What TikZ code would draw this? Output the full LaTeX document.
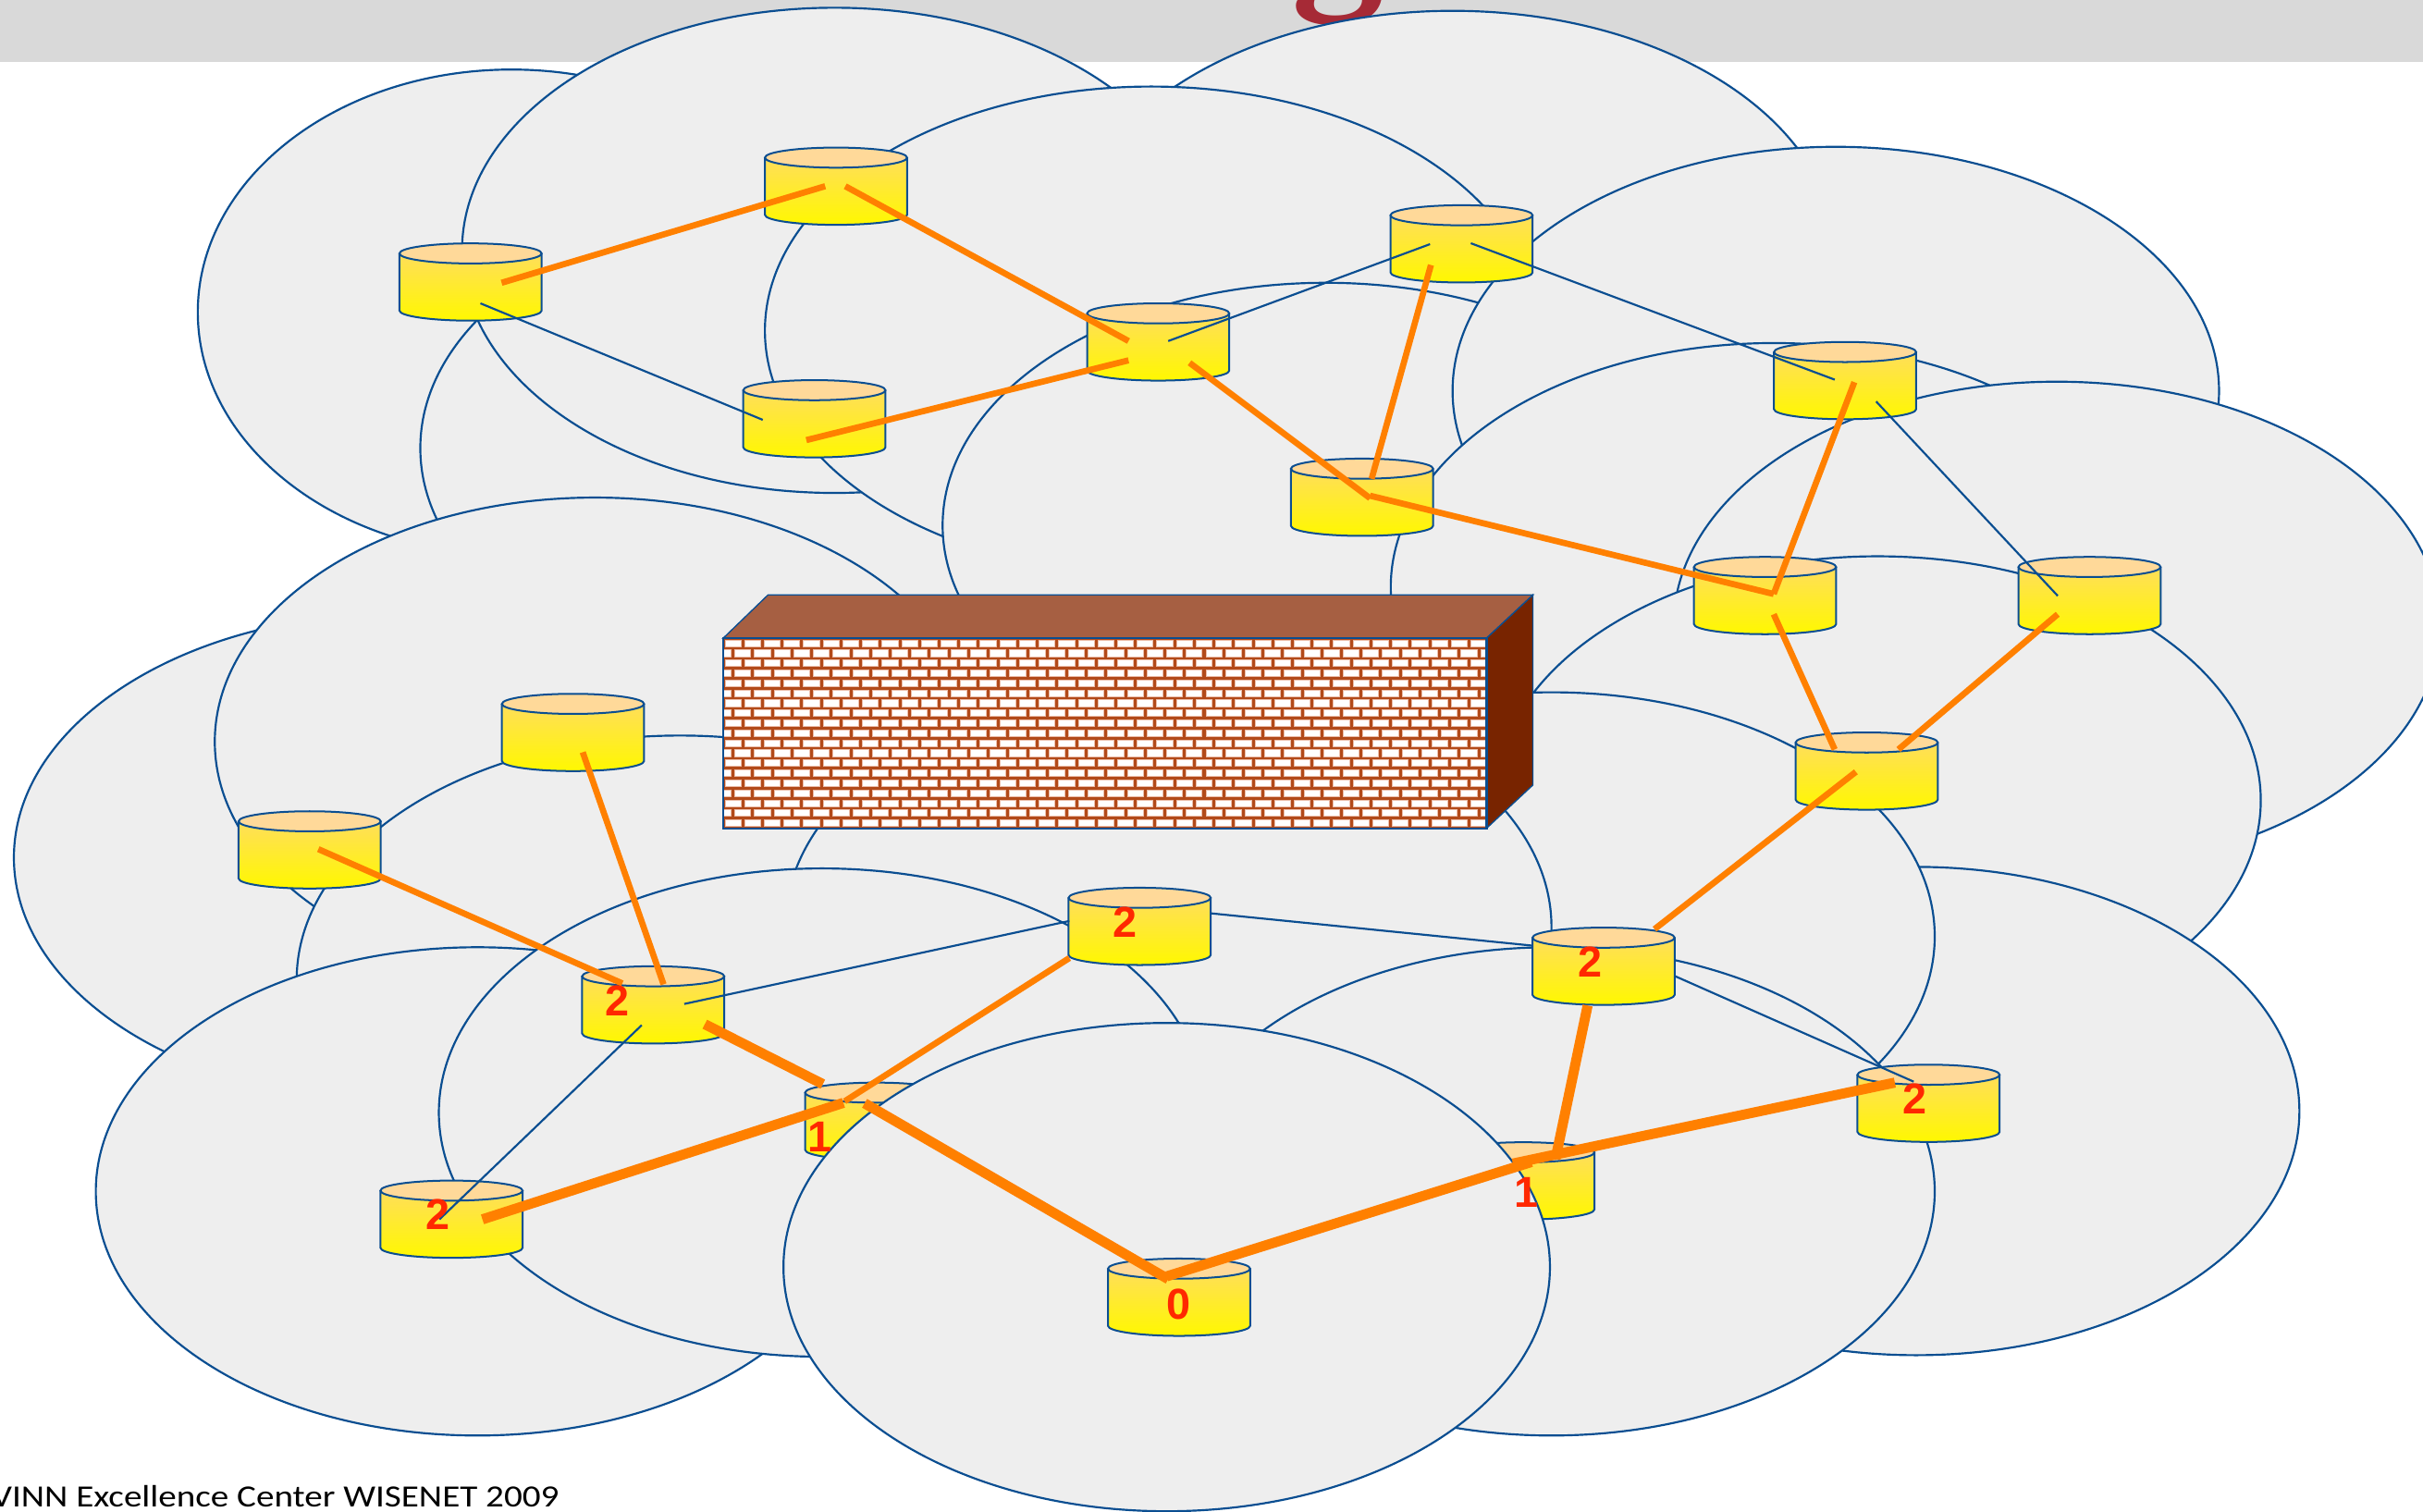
\documentclass[tikz,border=0pt]{standalone}
\usepackage{fontspec}
\usetikzlibrary{calc}
\newfontfamily\labelfont{Liberation Sans}
\newfontfamily\footfont{Carlito}
\newfontfamily\headfont{Liberation Serif}

\definecolor{cellgray}{RGB}{238,238,238}
\definecolor{linkblue}{RGB}{10,78,145}
\definecolor{barfill}{RGB}{217,217,217}
\definecolor{hoporange}{RGB}{255,128,0}
\definecolor{hopred}{RGB}{255,40,0}
\definecolor{titlered}{RGB}{166,42,54}
\definecolor{captop}{RGB}{255,217,153}
\definecolor{bodytop}{RGB}{255,222,90}
\definecolor{bodybot}{RGB}{255,248,0}
\definecolor{mortar}{RGB}{178,74,26}
\definecolor{brickedge}{RGB}{236,190,170}
\definecolor{walltop}{RGB}{166,95,66}
\definecolor{wallside}{RGB}{120,36,0}

% one radio node drawn as a small cylinder, centred at (#2,#3)
\newcommand{\relaynode}[3]{%
  \coordinate (#1) at (#2,#3);
  \begin{scope}[shift={(#2,#3)}]
    \path[top color=bodytop, bottom color=bodybot]
      (-46,-18.5) -- (-46,18.5) arc[start angle=180,end angle=0,x radius=46,y radius=6.5]
      -- (46,-18.5) arc[start angle=0,end angle=180,x radius=46,y radius=6.5] -- cycle;
    \draw[cyledge] (-46,-18.5) -- (-46,18.5)
      arc[start angle=180,end angle=0,x radius=46,y radius=6.5] -- (46,-18.5);
    \draw[cyledge, fill=captop] (0,-18.5) ellipse[x radius=46, y radius=6.5];
  \end{scope}}

\begin{document}
\begin{tikzpicture}[x=1pt,y=-1pt,
  cell/.style={fill=cellgray, draw=linkblue, line width=1.3pt},
  cyledge/.style={draw=linkblue, line width=1.2pt},
  link/.style={draw=linkblue, line width=1.3pt},
  hopthin/.style={draw=hoporange, line width=4pt},
  hopthick/.style={draw=hoporange, line width=6.5pt},
  hoplabel/.style={text=hopred, font=\labelfont\bfseries\fontsize{28}{28}\selectfont, inner sep=0pt},
  titleglyph/.style={anchor=base, text=titlered, inner sep=0pt,
    font=\headfont\bfseries\fontsize{120}{120}\selectfont}]
\useasboundingbox (0,0) rectangle (1568,978);
\clip (0,0) rectangle (1568,978);
\fill[white] (0,0) rectangle (1568,978);

% heading band
\fill[barfill] (0,0) rectangle (1568,40);
\node[titleglyph] (titleg) at (866,-10) {g};

% radio ranges
\draw[cell] (331,202) ellipse[x radius=203, y radius=157];
\draw[cell] (520,290) ellipse[x radius=248, y radius=158];
\draw[cell] (540,162) ellipse[x radius=241, y radius=157];
\draw[cell] (940,165) ellipse[x radius=248, y radius=158];
\draw[cell] (745,214) ellipse[x radius=250, y radius=158];
\draw[cell] (858,340) ellipse[x radius=248, y radius=157];
\draw[cell] (1188,253) ellipse[x radius=248, y radius=158];
\draw[cell] (1148,380) ellipse[x radius=248, y radius=158];
\draw[cell] (1331,405) ellipse[x radius=248, y radius=158];
\draw[cell] (1215,518) ellipse[x radius=248, y radius=158];
\draw[cell] (1240,719) ellipse[x radius=248, y radius=158];
\draw[cell] (1004,606) ellipse[x radius=248, y radius=158];
\draw[cell] (257,555) ellipse[x radius=248, y radius=158];
\draw[cell] (385,480) ellipse[x radius=246, y radius=158];
\draw[cell] (440,634) ellipse[x radius=248, y radius=158];
\draw[cell] (309,771) ellipse[x radius=247, y radius=158];
\draw[cell] (756,600) ellipse[x radius=248, y radius=158];
\draw[cell] (532,720) ellipse[x radius=248, y radius=158];
\draw[cell] (1004,771) ellipse[x radius=248, y radius=158];

% brick wall
\fill[walltop, draw=linkblue, line width=0.8pt] (468,413) -- (497,385) -- (992,385) -- (962,413) -- cycle;
\fill[wallside, draw=linkblue, line width=0.8pt] (962,413) -- (992,385) -- (992,508) -- (962,536) -- cycle;
\begin{scope}
  \clip (468,413) rectangle (962,536);
  \fill[mortar] (468,413) rectangle (962,536);
  \foreach \r in {0,...,18} {
    \foreach \c in {-1,...,39} {
      \pgfmathsetmacro\bx{468 + \c*12.7 + mod(\r,2)*6.35}
      \pgfmathsetmacro\by{413 + \r*6.47}
      \filldraw[fill=white, draw=brickedge, line width=0.5pt]
        (\bx+1.2,\by+1.1) rectangle (\bx+11.5,\by+5.4);
    }
  }
\end{scope}
\draw[linkblue, line width=1.3pt] (468,413) rectangle (962,536);

% nodes lying under the last range
\relaynode{n17}{567}{725.6}
\relaynode{n18}{985.8}{764.2}
\draw[cell] (755,820) ellipse[x radius=248, y radius=158];

% remaining nodes
\relaynode{n1}{304.5}{182.5}
\relaynode{n2}{541}{120.5}
\relaynode{n3}{527}{271}
\relaynode{n4}{749.5}{221.3}
\relaynode{n5}{945.8}{157.8}
\relaynode{n6}{1194}{246.3}
\relaynode{n7}{881.4}{321.8}
\relaynode{n8}{1142.2}{385.4}
\relaynode{n9}{1352.2}{385.4}
\relaynode{n10}{370.8}{474}
\relaynode{n11}{200.4}{550}
\relaynode{n12}{1208}{499}
\relaynode{n13}{737.5}{599.5}
\relaynode{n14}{1037.7}{625.3}
\relaynode{n15}{422.7}{650.3}
\relaynode{n16}{1248}{714}
\relaynode{n19}{292.2}{789}
\relaynode{n20}{763}{839.5}

% neighbour links
\draw[link] ($(n1)+(6.4,13.8)$) -- ($(n3)+(-33.4,0.7)$);
\draw[link] ($(n4)+(6.5,-0.6)$) -- ($(n5)+(-20.4,0.2)$);
\draw[link] ($(n5)+(6,-0.4)$) -- ($(n6)+(-6.7,-0.6)$);
\draw[link] ($(n6)+(20.1,13.5)$) -- ($(n9)+(-20.6,0.2)$);
\draw[link] ($(n15)+(20.1,-0.6)$) -- ($(n13)+(-45.5,-3.5)$);
\draw[link] ($(n15)+(-7.4,13.1)$) -- ($(n19)+(-7.8,0.1)$);
\draw[link] ($(n13)+(45.5,-8.5)$) -- ($(n14)+(-45.7,-13.3)$);
\draw[link] ($(n14)+(46,6.3)$) -- ($(n16)+(-9.6,-14)$);

% routing tree
\draw[hopthin] ($(n1)+(20.1,0.5)$) -- ($(n2)+(-7,0)$);
\draw[hopthin] ($(n2)+(6,0)$) -- ($(n4)+(-19.2,-0.6)$);
\draw[hopthin] ($(n3)+(-5.2,13.8)$) -- ($(n4)+(-19.2,11.9)$);
\draw[hopthin] ($(n4)+(20.3,13.5)$) -- ($(n7)+(5.2,0.6)$);
\draw[hopthin] ($(n5)+(-19.8,13.7)$) -- ($(n7)+(6.2,-11.9)$);
\draw[hopthin] ($(n7)+(5.2,-1)$) -- ($(n8)+(5.6,-1)$);
\draw[hopthin] ($(n6)+(6,1)$) -- ($(n8)+(5.6,-1)$);
\draw[hopthin] ($(n8)+(5.6,12.1)$) -- ($(n12)+(-20.7,-14)$);
\draw[hopthin] ($(n9)+(-20.6,12.1)$) -- ($(n12)+(20.5,-14)$);
\draw[hopthin] ($(n12)+(-7,0.5)$) -- ($(n14)+(33,-24)$);
\draw[hopthin] ($(n10)+(6.3,12.8)$) -- ($(n15)+(6.7,-13.3)$);
\draw[hopthin] ($(n11)+(5.6,-0.5)$) -- ($(n15)+(-20,-13.9)$);
\draw[hopthin] ($(n13)+(-45.5,20.5)$) -- ($(n17)+(-20.4,-12.9)$);
\draw[hopthick] ($(n15)+(33.4,12.5)$) -- ($(n17)+(-34.5,-24)$);
\draw[hopthick] ($(n19)+(20,0.1)$) -- ($(n17)+(-21.2,-11.9)$);
\draw[hopthick] ($(n17)+(-7.5,-11.6)$) -- ($(n20)+(-7,-11.7)$);
\draw[hopthick] ($(n20)+(-8,-13.5)$) -- ($(n18)+(5.2,-12.2)$);
\draw[hopthick] ($(n18)+(-6.8,-11.2)$) -- ($(n16)+(-21.8,-13.4)$);
\draw[hopthick] ($(n14)+(-10.3,25.4)$) -- ($(n18)+(20.8,-14.2)$);

% hop counts
\node[hoplabel] (l13) at ($(n13)+(-9.5,-2.5)$) {2};
\node[hoplabel] (l14) at ($(n14)+(-8.8,-2.6)$) {2};
\node[hoplabel] (l15) at ($(n15)+(-23.1,-2.8)$) {2};
\node[hoplabel] (l16) at ($(n16)+(-8.9,-2.8)$) {2};
\node[hoplabel] (l17) at ($(n17)+(-36.4,10.4)$) {1};
\node[hoplabel] (l18) at ($(n18)+(2.2,7.4)$) {1};
\node[hoplabel] (l19) at ($(n19)+(-9,-3)$) {2};
\node[hoplabel] (l20) at ($(n20)+(-0.4,4.3)$) {0};

% footer
\node[anchor=base east, inner sep=0pt, xscale=1.17, font=\footfont\fontsize{20}{20}\selectfont]
  (footer) at (362,975) {VINN Excellence Center WISENET 2009};
\end{tikzpicture}
\end{document}
